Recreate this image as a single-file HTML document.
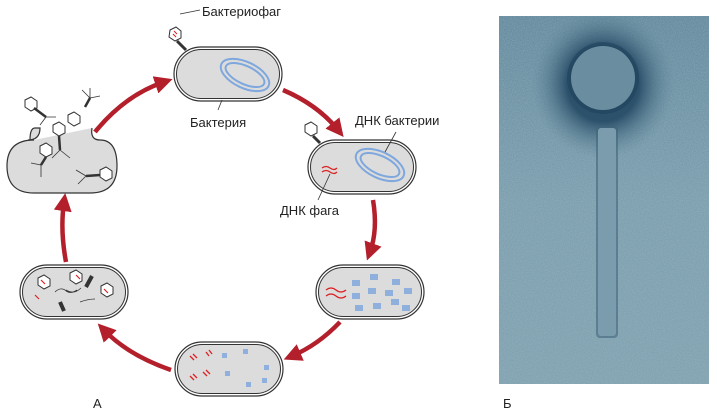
<!DOCTYPE html>
<html><head><meta charset="utf-8"><style>
html,body{margin:0;padding:0;background:#fff;width:717px;height:415px;overflow:hidden}
svg{display:block}
text{font-family:"Liberation Sans",sans-serif;font-size:13px;fill:#222}
</style></head><body>
<svg width="717" height="415" viewBox="0 0 717 415">
<defs>
<marker id="ah" markerWidth="4" markerHeight="4" refX="2" refY="2" orient="auto" markerUnits="strokeWidth">
<path d="M0,0 L4,2 L0,4 z" fill="#b3202c"/></marker>
<g id="cell">
<rect x="0" y="0" width="108" height="54" rx="27" fill="#fff" stroke="#333" stroke-width="1.2"/>
<rect x="2.5" y="2.5" width="103" height="49" rx="24.5" fill="#dcdcdc" stroke="#333" stroke-width="1"/>
</g>
<radialGradient id="halo" cx="50%" cy="50%" r="50%">
<stop offset="0.5" stop-color="#1f4460"/><stop offset="1" stop-color="#5f8598" stop-opacity="0"/></radialGradient>
<linearGradient id="bg" x1="0" y1="0" x2="0" y2="1">
<stop offset="0" stop-color="#5a8296"/><stop offset="0.5" stop-color="#7598a8"/><stop offset="1" stop-color="#7a9cab"/></linearGradient>
<filter id="noise" x="0" y="0" width="1" height="1" filterUnits="objectBoundingBox"><feTurbulence type="fractalNoise" baseFrequency="0.9" numOctaves="2" seed="3"/><feColorMatrix values="0 0 0 0 0.45  0 0 0 0 0.6  0 0 0 0 0.68  0 0 0 0.45 0"/></filter>
</defs>

<g fill="none" stroke="#b3202c" stroke-width="4.5" marker-end="url(#ah)">
<path d="M95,132 Q125,95 164,82"/>
<path d="M283,90 Q318,105 338,130"/>
<path d="M373,200 Q378,230 370,252"/>
<path d="M340,322 Q318,345 292,356"/>
<path d="M171,370 Q128,355 104,330"/>
<path d="M66,262 Q60,230 64,202"/>
</g>

<use href="#cell" x="174" y="47"/>
<ellipse cx="245" cy="75" rx="26" ry="13" transform="rotate(25 245 75)" fill="none" stroke="#7ea7dd" stroke-width="2"/>
<ellipse cx="245" cy="75" rx="21" ry="9" transform="rotate(25 245 75)" fill="none" stroke="#7ea7dd" stroke-width="2"/>
<polygon points="170,30 176,27 181,31 181,38 175,41 169,37" fill="#fff" stroke="#333"/>
<path d="M174,31 l3,3 M173,34 l3,3" stroke="#d22" stroke-width="1"/>
<path d="M177,41 L186,50" stroke="#333" stroke-width="3"/>
<path d="M180,14 L200,10" stroke="#333" stroke-width="0.8" fill="none"/>
<path d="M222,100 L218,110" stroke="#333" stroke-width="0.8"/>
<text x="202" y="16">Бактериофаг</text>
<text x="190" y="127">Бактерия</text>

<use href="#cell" x="308" y="140"/>
<ellipse cx="380" cy="165" rx="26" ry="13" transform="rotate(25 380 165)" fill="none" stroke="#7ea7dd" stroke-width="2"/>
<ellipse cx="380" cy="165" rx="21" ry="9" transform="rotate(25 380 165)" fill="none" stroke="#7ea7dd" stroke-width="2"/>
<polygon points="305,125 311,122 317,126 317,133 311,136 305,132" fill="#fff" stroke="#333"/>
<path d="M313,136 L320,143" stroke="#333" stroke-width="3"/>
<path d="M322,168 q4,-3 8,0 q4,3 7,0 M322,172 q4,-3 8,0 q4,3 7,0" stroke="#d22" stroke-width="1.3" fill="none"/>
<path d="M330,174 L318,200" stroke="#333" stroke-width="0.8"/>
<path d="M385,152 L396,132" stroke="#333" stroke-width="0.8"/>
<text x="355" y="125">ДНК бактерии</text>
<text x="280" y="215">ДНК фага</text>

<use href="#cell" x="316" y="265"/>
<path d="M326,290 q5,-4 10,0 q5,4 10,0 M326,296 q5,-4 10,0 q5,4 10,0" stroke="#d22" stroke-width="1.3" fill="none"/>
<g fill="#8fb0dc">
<rect x="352" y="280" width="8" height="6"/><rect x="370" y="274" width="8" height="6"/><rect x="392" y="279" width="8" height="6"/>
<rect x="352" y="293" width="8" height="6"/><rect x="368" y="288" width="8" height="6"/><rect x="385" y="290" width="8" height="6"/>
<rect x="404" y="288" width="8" height="6"/><rect x="355" y="305" width="8" height="6"/><rect x="373" y="303" width="8" height="6"/>
<rect x="391" y="299" width="8" height="6"/><rect x="402" y="305" width="8" height="6"/>
</g>

<use href="#cell" x="175" y="342"/>
<path d="M190,356 l4,4 M193,354 l4,4 M206,352 l3,4 M209,350 l3,4 M190,376 l4,4 M193,374 l4,4 M203,372 l4,4 M206,370 l4,4" stroke="#d22" stroke-width="1.3"/>
<g fill="#8fb0dc"><rect x="222" y="353" width="5" height="5"/><rect x="243" y="349" width="5" height="5"/><rect x="225" y="371" width="5" height="5"/><rect x="264" y="365" width="5" height="5"/><rect x="246" y="382" width="5" height="5"/><rect x="262" y="378" width="5" height="5"/></g>

<use href="#cell" x="20" y="265"/>
<g fill="#fff" stroke="#333">
<polygon points="38,278 44,275 50,279 50,286 44,289 38,285"/>
<polygon points="70,273 76,270 82,274 82,281 76,284 70,280"/>
<polygon points="101,286 107,283 113,287 113,294 107,297 101,293"/>
</g>
<path d="M41,280 l4,4 M76,275 l4,4 M104,289 l4,4 M35,295 l4,4" stroke="#d22" stroke-width="1.2"/>
<path d="M92,276 L86,287 M60,302 L64,311" stroke="#333" stroke-width="4"/>
<path d="M55,292 q5,-5 10,-2 q5,5 12,0 M66,290 q8,5 15,-2 M80,302 q8,-3 15,-3" stroke="#333" stroke-width="0.8" fill="none"/>

<path d="M30,140 Q30,128 35,128 L40,128 Q40,140 28,140 M92,128 Q90,140 100,140 Q117,140 117,166 Q117,193 90,193 L34,193 Q7,193 7,166 Q7,140 34,140" fill="#dcdcdc" stroke="#333" stroke-width="1.2"/>
<g fill="#fff" stroke="#333">
<polygon points="25,100 31,97 37,101 37,108 31,111 25,107"/>
<polygon points="68,115 74,112 80,116 80,123 74,126 68,122"/>
<polygon points="53,125 59,122 65,126 65,133 59,136 53,132"/>
<polygon points="40,146 46,143 52,147 52,154 46,157 40,153"/>
<polygon points="100,170 106,167 112,171 112,178 106,181 100,177"/>
</g>
<path d="M34,108 L46,117 M59,136 L60,150 M46,157 L41,165 M100,175 L86,176 M85,107 L90,98" stroke="#333" stroke-width="2.5"/>
<path d="M46,117 l-6,8 M46,117 l10,0 M60,150 l-8,8 M60,150 l10,8 M41,165 l-10,-2 M41,165 l0,12 M86,176 l-10,-6 M86,176 l-8,8 M90,98 l-8,-8 M90,98 l10,-2 M90,98 l0,-10" stroke="#333" stroke-width="0.8"/>

<text x="93" y="408">А</text>

<svg x="499" y="16" width="210" height="368">
<rect x="0" y="0" width="210" height="368" fill="url(#bg)"/>
<rect x="0" y="0" width="210" height="368" filter="url(#noise)"/>
<ellipse cx="104" cy="68" rx="72" ry="75" fill="url(#halo)" opacity="0.85"/>
<circle cx="104" cy="62" r="36" fill="#1f435c" opacity="0.6"/>
<circle cx="104" cy="62" r="32" fill="#6a8ea0"/>
<rect x="97" y="110" width="22" height="212" rx="4" fill="#3f6478" opacity="0.6"/>
<rect x="99" y="112" width="18" height="208" rx="3" fill="#7b9cac"/>
</svg>
<text x="503" y="408">Б</text>
</svg>
</body></html>
